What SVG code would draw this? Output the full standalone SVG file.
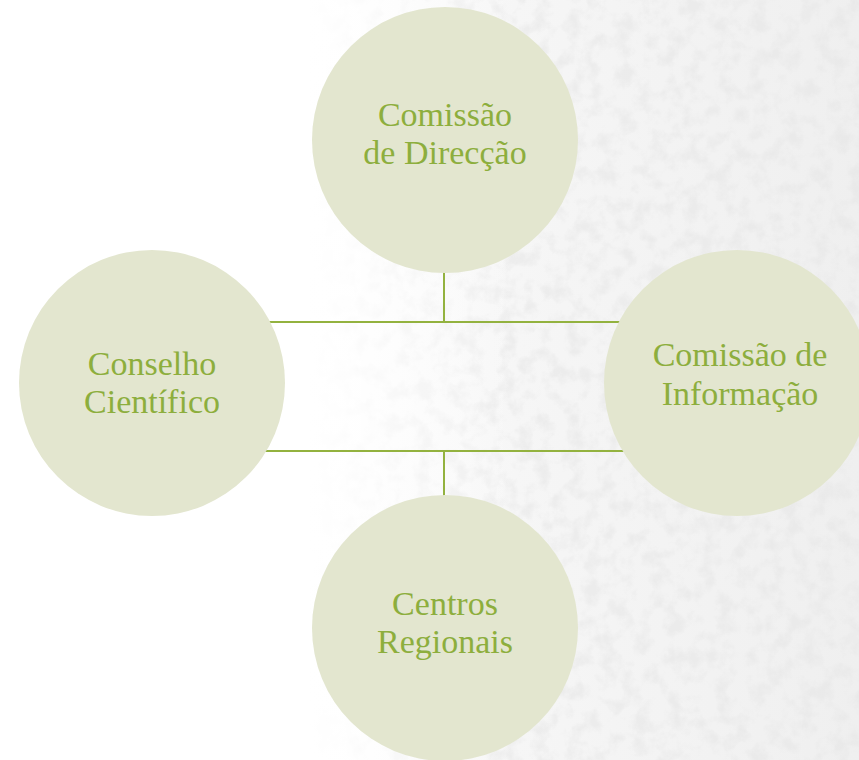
<svg xmlns="http://www.w3.org/2000/svg" width="859" height="760" viewBox="0 0 859 760">
<defs>
<linearGradient id="bg" x1="0" y1="0" x2="1" y2="0">
<stop offset="0" stop-color="#ffffff"/>
<stop offset="0.35" stop-color="#ffffff"/>
<stop offset="0.6" stop-color="#f6f6f6"/>
<stop offset="1" stop-color="#efefef"/>
</linearGradient>
<linearGradient id="fade" x1="0" y1="0" x2="1" y2="0">
<stop offset="0" stop-color="#fff" stop-opacity="1"/>
<stop offset="0.36" stop-color="#fff" stop-opacity="1"/>
<stop offset="0.6" stop-color="#fff" stop-opacity="0"/>
<stop offset="1" stop-color="#fff" stop-opacity="0"/>
</linearGradient>
<filter id="tex" x="0" y="0" width="100%" height="100%">
<feTurbulence type="fractalNoise" baseFrequency="0.06" numOctaves="4" seed="7" result="n"/>
<feColorMatrix in="n" type="matrix" values="0 0 0 0 0.78  0 0 0 0 0.78  0 0 0 0 0.78  0 0 0 3 -1.3" result="c"/>
<feComposite in="c" in2="SourceGraphic" operator="in"/>
</filter>
<style>
.node circle{fill:#e3e6cf}
.node text{font-family:"Liberation Serif","DejaVu Serif",serif;font-size:34px;fill:#8dae3d;text-anchor:middle}
.conn line{stroke:#93b23f;stroke-width:2;fill:none}
</style>
</defs>
<rect width="859" height="760" fill="url(#bg)"/>
<rect width="859" height="760" fill="#000" filter="url(#tex)" opacity="0.5"/>
<rect width="859" height="760" fill="url(#fade)"/>
<g id="connectors" class="conn">
<line x1="152" y1="322" x2="737" y2="322"/>
<line x1="152" y1="451" x2="737" y2="451"/>
<line x1="444" y1="140" x2="444" y2="322"/>
<line x1="444" y1="451" x2="444" y2="628"/>
</g>
<g id="comissao-direccao" class="node">
<circle cx="445" cy="140" r="133"/>
<text x="445" y="126">Comissão</text>
<text x="445" y="164">de Direcção</text>
</g>
<g id="conselho-cientifico" class="node">
<circle cx="152" cy="383" r="133"/>
<text x="152" y="375">Conselho</text>
<text x="152" y="413">Científico</text>
</g>
<g id="comissao-informacao" class="node">
<circle cx="737" cy="383" r="133"/>
<text x="740" y="366">Comissão de</text>
<text x="740" y="405">Informação</text>
</g>
<g id="centros-regionais" class="node">
<circle cx="445" cy="628" r="133"/>
<text x="445" y="615">Centros</text>
<text x="445" y="653">Regionais</text>
</g>
</svg>
